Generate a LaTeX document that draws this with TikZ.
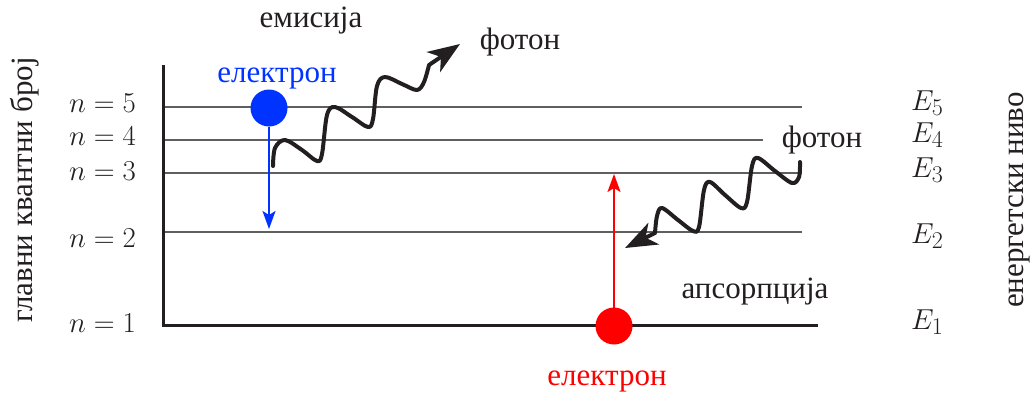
\documentclass[tikz,border=0pt]{standalone}
\usepackage[no-math]{fontspec}
\setmainfont{Liberation Serif}
\usetikzlibrary{arrows.meta}
\definecolor{eblue}{RGB}{0,51,255}
\definecolor{ered}{RGB}{255,0,0}
\definecolor{lvl}{RGB}{95,95,95}
\definecolor{ink}{RGB}{35,31,32}
\newcommand{\bigmath}[1]{\scalebox{1.16}{$#1$}}
\begin{document}
\begin{tikzpicture}[x=1pt,y=-1pt,
  every node/.style={inner sep=0pt, outer sep=0pt, font=\fontsize{31}{36}\selectfont, text=ink},
  mathlab/.style={font=\fontsize{24.88}{30}\selectfont},
  level/.style={draw=lvl, line width=1.6pt},
  axis/.style={draw=ink, line width=3pt, line join=miter},
  photon/.style={draw=ink, line width=4pt, line cap=round, line join=round},
  photonhead/.style={draw=ink, line width=4pt, -{Stealth[length=32pt,width=24pt,inset=9pt]}},
  electron/.style={circle, minimum size=37pt},
  transition/.style={line width=2pt, -{Stealth[length=18pt,width=13pt,inset=4pt]}},
  lab/.style={anchor=base}
]
\useasboundingbox (0,0) rectangle (1032,394);

% axis
\coordinate (axtop) at (163,65);
\coordinate (axcorner) at (163,325);
\coordinate (axend) at (818,325);
% levels
\coordinate (l5a) at (163,107); \coordinate (l5b) at (802,107);
\coordinate (l4a) at (163,140); \coordinate (l4b) at (763,140);
\coordinate (l3a) at (163,173); \coordinate (l3b) at (802,173);
\coordinate (l2a) at (163,232); \coordinate (l2b) at (802,232);
\draw[level] (l5a) -- (l5b);
\draw[level] (l4a) -- (l4b);
\draw[level] (l3a) -- (l3b);
\draw[level] (l2a) -- (l2b);
\draw[axis] (axtop) -- (axcorner) -- (axend);

% quantum numbers
\node[mathlab, anchor=base east] (n5) at (136,112) {\bigmath{n=5}};
\node[mathlab, anchor=base east] (n4) at (136,145) {\bigmath{n=4}};
\node[mathlab, anchor=base east] (n3) at (136,180) {\bigmath{n=3}};
\node[mathlab, anchor=base east] (n2) at (136,247) {\bigmath{n=2}};
\node[mathlab, anchor=base east] (n1) at (136,332) {\bigmath{n=1}};

% energies
\node[mathlab, anchor=base west] (E5) at (911,110) {\bigmath{E_5}};
\node[mathlab, anchor=base west] (E4) at (911,142) {\bigmath{E_4}};
\node[mathlab, anchor=base west] (E3) at (911,177) {\bigmath{E_3}};
\node[mathlab, anchor=base west] (E2) at (911,243) {\bigmath{E_2}};
\node[mathlab, anchor=base west] (E1) at (911,329) {\bigmath{E_1}};

% axis titles
\node[rotate=90, anchor=base] (qn) at (32,190) {главни квантни број};
\node[rotate=90, anchor=base] (en) at (1023,200) {енергетски ниво};

% emission
\node[electron, fill=eblue] (eb) at (269,108) {};
\coordinate (ebtip) at (269,229);
\draw[transition, draw=eblue, fill=eblue] (eb.south) -- (ebtip);
\node[lab, text=eblue] (elb) at (277,82) {електрон};
\node[lab] (emis) at (311,27) {емисија};
\node[lab] (ph1) at (520,49) {фотон};
\coordinate (emA) at (273,166);
\coordinate (emB) at (429,65);
\coordinate (emTip) at (460,44);
\draw[photon] plot[smooth, tension=0.55] coordinates {
  (273,166) (275,148) (285,140) (302,150) (317,161) (322,154) (327,115) (335,107)
  (352,117) (368,127) (373,119) (377,86) (385,77) (402,84) (417,90) (424,82) (429,65)};
\draw[photonhead] (emB) -- (emTip);

% absorption
\node[electron, fill=ered] (er) at (614,326) {};
\coordinate (ertip) at (614,174);
\draw[transition, draw=ered, fill=ered] (er.north) -- (ertip);
\node[lab, text=ered] (elr) at (607,385) {електрон};
\node[lab] (abs) at (755,298) {апсорпција};
\node[lab] (ph2) at (822,147) {фотон};
\coordinate (abA) at (800,162);
\coordinate (abB) at (655,233);
\coordinate (abTip) at (625,248);
\draw[photon] plot[smooth, tension=0.55] coordinates {
  (800,162) (799,177) (792,183) (775,171) (758,158) (752,166) (747,202) (741,208)
  (725,195) (710,182) (704,190) (699,227) (693,231) (678,220) (662,208) (657,216) (655,233)};
\draw[photonhead] (abB) -- (abTip);
\end{tikzpicture}
\end{document}
